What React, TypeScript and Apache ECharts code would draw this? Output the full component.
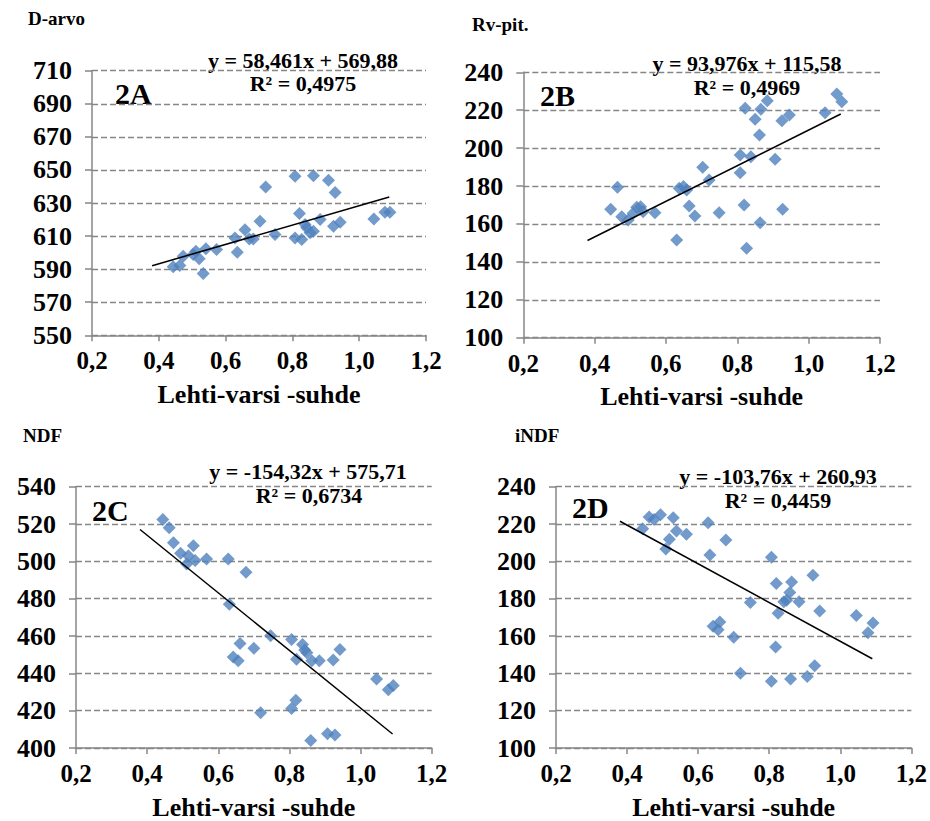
import React, { useEffect, useRef } from "react";
import * as echarts from "echarts";

// ---- data ----
const xTickMin = 0.2;
const xTickMax = 1.2;
const xTickStep = 0.2;

const panelNames = ["2A", "2B", "2C", "2D"];
const yTitles = ["D-arvo", "Rv-pit.", "NDF", "iNDF"];
const xTitle = "Lehti-varsi -suhde";
const yMins = [550, 100, 400, 100];
const yMaxs = [710, 240, 540, 240];
const yStep = 20;

const slopes = [58.461, 93.976, -154.32, -103.76];
const intercepts = [569.88, 115.58, 575.71, 260.93];
const eqTexts = ["y = 58,461x + 569,88", "y = 93,976x + 115,58", "y = -154,32x + 575,71", "y = -103,76x + 260,93"];
const r2Texts = ["R² = 0,4975", "R² = 0,4969", "R² = 0,6734", "R² = 0,4459"];
const trendFrom = 0.38;
const trendTo = 1.09;

const pointsA: [number, number][] = [
  [0.443, 591.4], [0.463, 592.2], [0.473, 597.8], [0.503, 598.8], [0.511, 600.8], [0.521, 596.3],
  [0.533, 587.4], [0.541, 602.3], [0.573, 601.9], [0.628, 608.9], [0.635, 600.2], [0.658, 613.9],
  [0.671, 608.3], [0.683, 608.3], [0.703, 618.9], [0.72, 639.7], [0.748, 610.9], [0.808, 646.1],
  [0.821, 623.6], [0.808, 608.9], [0.828, 607.9], [0.838, 617.0], [0.843, 615.0], [0.853, 612.0],
  [0.863, 646.5], [0.863, 612.9], [0.883, 620.0], [0.908, 643.7], [0.928, 636.4], [0.923, 616.0],
  [0.943, 618.3], [1.044, 620.4], [1.077, 624.4], [1.092, 624.4],
];

const pointsB: [number, number][] = [
  [0.445, 167.7], [0.464, 179.3], [0.476, 163.8], [0.494, 162.1], [0.518, 168.8], [0.508, 165.6],
  [0.529, 169.1], [0.536, 166.5], [0.569, 165.9], [0.63, 151.5], [0.637, 178.8], [0.649, 179.7],
  [0.658, 177.9], [0.665, 169.5], [0.681, 164.2], [0.703, 189.9], [0.721, 183.2], [0.749, 165.9],
  [0.808, 196.4], [0.808, 187.0], [0.838, 195.5], [0.819, 170.0], [0.822, 221.0], [0.826, 147.2],
  [0.85, 215.2], [0.862, 206.9], [0.866, 220.5], [0.884, 225.0], [0.864, 160.6], [0.906, 194.1],
  [0.927, 167.7], [0.925, 214.5], [0.946, 217.5], [1.046, 218.7], [1.079, 228.6], [1.093, 224.5],
];

const pointsC: [number, number][] = [
  [0.444, 522.4], [0.462, 518.0], [0.474, 510.0], [0.494, 504.3], [0.53, 508.3], [0.516, 503.0],
  [0.511, 498.6], [0.535, 500.4], [0.567, 501.3], [0.628, 501.3], [0.678, 494.2], [0.631, 477.0],
  [0.661, 456.0], [0.642, 448.8], [0.656, 446.7], [0.7, 453.4], [0.747, 460.2], [0.806, 458.1],
  [0.837, 455.5], [0.82, 447.5], [0.849, 451.0], [0.843, 452.5], [0.863, 446.7], [0.884, 446.7],
  [0.923, 447.2], [0.942, 452.8], [1.045, 437.0], [1.078, 431.2], [1.092, 433.5], [0.719, 418.9],
  [0.806, 421.1], [0.818, 425.6], [0.86, 404.0], [0.907, 407.6], [0.928, 407.0],
];

const pointsD: [number, number][] = [
  [0.444, 217.5], [0.462, 223.8], [0.476, 222.4], [0.494, 225.0], [0.53, 223.3], [0.539, 216.2],
  [0.519, 211.8], [0.509, 206.6], [0.567, 214.5], [0.628, 220.7], [0.633, 203.4], [0.678, 211.5],
  [0.806, 202.2], [0.82, 188.1], [0.863, 189.0], [0.858, 183.3], [0.923, 192.5], [0.747, 177.9],
  [0.841, 178.4], [0.849, 179.2], [0.884, 178.4], [0.825, 172.2], [0.942, 173.4], [1.045, 171.0],
  [1.092, 167.0], [1.078, 161.7], [0.642, 165.2], [0.661, 167.5], [0.656, 163.4], [0.7, 159.4],
  [0.818, 154.1], [0.719, 140.0], [0.806, 135.8], [0.86, 137.0], [0.907, 138.3], [0.928, 144.1],
];

const allPoints = [pointsA, pointsB, pointsC, pointsD];

// ---- layout (pixels) ----
const grids = [
  { left: 92, top: 70.7, width: 334, height: 264.6 },
  { left: 523.3, top: 72.3, width: 356.7, height: 265.4 },
  { left: 76, top: 486.7, width: 355.7, height: 265 },
  { left: 556, top: 486.7, width: 355.7, height: 265 },
];
const yTitlePos = [[28, 18], [472, 24], [23, 435], [515, 435]];
const eqPos = [[303, 60], [747, 63], [308, 471], [778, 476]];
const r2Pos = [[303, 83], [747, 87], [309, 495], [778, 500]];
const labelPos = [[115, 93], [540, 95], [92, 510], [572, 507]];

const FONT = "'Liberation Serif', 'Times New Roman', serif";
const AXIS_GRAY = "#868686";
const MARKER = "#4F81BD";

function fmtComma(v: number) {
  return v.toFixed(1).replace(".", ",");
}

function txt(x: number, y: number, text: string, size: number, align: string) {
  return {
    type: "text",
    x,
    y,
    style: {
      text,
      font: `bold ${size}px ${FONT}`,
      fill: "#000",
      textAlign: align,
      align,
      textVerticalAlign: "middle",
      verticalAlign: "middle",
    },
  };
}

export default function App() {
  const ref = useRef<HTMLDivElement>(null);
  useEffect(() => {
    document.body.style.margin = "0";
    if (!ref.current) return;
    const chart = echarts.init(ref.current, undefined, { renderer: "svg" });

    const xAxis: any[] = [];
    const yAxis: any[] = [];
    const series: any[] = [];
    const graphic: any[] = [];

    grids.forEach((g, i) => {
      xAxis.push({
        type: "value",
        gridIndex: i,
        min: xTickMin,
        max: xTickMax,
        interval: xTickStep,
        axisLine: { show: true, onZero: false, lineStyle: { color: AXIS_GRAY, width: 1.5 } },
        axisTick: { show: true, length: 6, lineStyle: { color: AXIS_GRAY, width: 1.5 } },
        axisLabel: {
          formatter: (v: number) => fmtComma(v),
          fontFamily: FONT,
          fontWeight: "bold",
          fontSize: 25,
          color: "#000",
          margin: 13,
        },
        splitLine: { show: false },
        name: xTitle,
        nameLocation: "middle",
        nameGap: 46,
        nameTextStyle: { fontFamily: FONT, fontWeight: "bold", fontSize: 26, color: "#000" },
      });
      yAxis.push({
        type: "value",
        gridIndex: i,
        min: yMins[i],
        max: yMaxs[i],
        interval: yStep,
        axisLine: { show: true, onZero: false, lineStyle: { color: AXIS_GRAY, width: 1.5 } },
        axisTick: { show: true, length: 7, lineStyle: { color: AXIS_GRAY, width: 1.5 } },
        axisLabel: {
          fontFamily: FONT,
          fontWeight: "bold",
          fontSize: 26,
          color: "#000",
          margin: 20,
        },
        splitLine: { show: true, lineStyle: { color: AXIS_GRAY, width: 1.3, type: [6, 3] } },
      });
      series.push({
        type: "scatter",
        xAxisIndex: i,
        yAxisIndex: i,
        symbol: "diamond",
        symbolSize: 13,
        itemStyle: { color: MARKER },
        data: allPoints[i],
        z: 3,
      });
      series.push({
        type: "line",
        xAxisIndex: i,
        yAxisIndex: i,
        symbol: "none",
        lineStyle: { color: "#000", width: 1.5 },
        data: [
          [trendFrom, slopes[i] * trendFrom + intercepts[i]],
          [trendTo, slopes[i] * trendTo + intercepts[i]],
        ],
        z: 4,
      });
      graphic.push(txt(yTitlePos[i][0], yTitlePos[i][1], yTitles[i], 19, "left"));
      graphic.push(txt(eqPos[i][0], eqPos[i][1], eqTexts[i], 22, "center"));
      graphic.push(txt(r2Pos[i][0], r2Pos[i][1], r2Texts[i], 22, "center"));
      graphic.push(txt(labelPos[i][0], labelPos[i][1], panelNames[i], 30, "left"));
    });

    chart.setOption({
      animation: false,
      backgroundColor: "#fff",
      grid: grids.map((g) => ({ ...g, containLabel: false })),
      xAxis,
      yAxis,
      series,
      graphic,
    });
    return () => chart.dispose();
  }, []);
  return <div ref={ref} style={{ width: 930, height: 821 }} />;
}
